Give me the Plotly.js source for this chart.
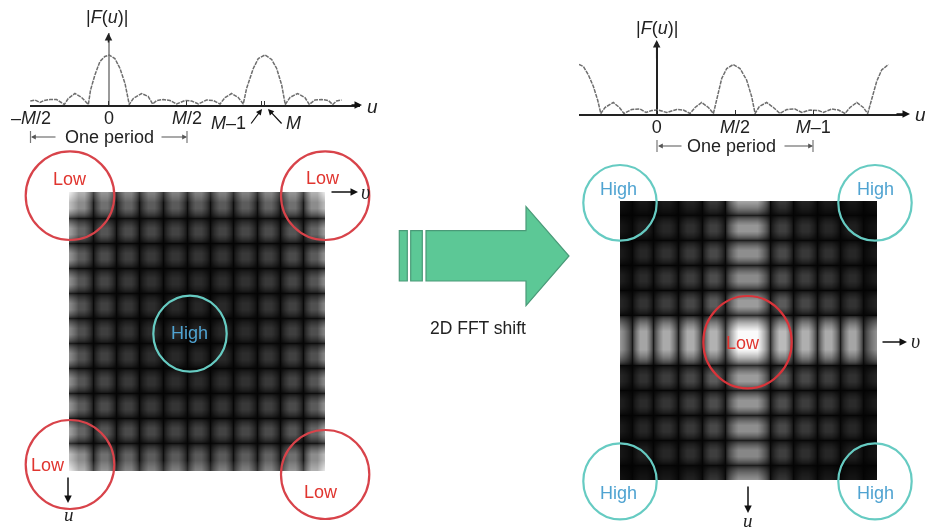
<!DOCTYPE html>
<html>
<head>
<meta charset="utf-8">
<script src="https://cdn.plot.ly/plotly-3.0.1.min.js"></script>
<style>html,body{margin:0;padding:0;background:#fff}#chart{width:925px;height:532px;filter:blur(0.5px)}</style>
</head>
<body>
<div id="chart"></div>
<script>
// ---------- spectra ----------
var leftU = [-50.4,-47.4,-44.2,-41.5,-37.8,-33.5,-28.6,-26.1,-21.8,-17.5,-13.2,-11.8,-9,-5.8,-2.6,0.2,3.8,7.1,10.3,13,15.6,20.9,25.2,28,30.6,34.8,39.1,43.4,48.7,53,57.3,62.6,66.9,71.2,74.4,78.6,82.9,86.1,88.2,92.5,95.7,100,104.3,107.5,110.7,113,116,120.9,125.6,128.4,132,136.3,140.6,143.4,145.9,149.1];
var leftMag = [8,10,5,9,11,11,1,13,23,15,1,30,60,87,97,100,93,73,43,1,13,23,17,2,9,11,9,2,9,8,2,10,9,2,15,23,15,2,33,73,93,100,91,73,40,1,15,23,15,1,10,11,9,1,8,10];
var rightU = [-49.6,-46.8,-43.6,-40.4,-37.7,-35.7,-33,-27.7,-23.8,-20.9,-16,-10.6,-6.8,-3.2,1,6.4,12.8,17,21.3,24.5,28.7,33,36.2,38.3,41.5,44.7,48.9,53.2,57.4,60.6,62.8,65.5,70.2,74.5,78.7,83,88.3,92.6,97.9,103.2,106.4,111.7,116,120.2,123.4,127.7,131.9,134.7,137.2,140.4,143.6,147.9];
var rightMag = [99,95,78,55,28,1,13,23,13,1,9,10,3,7,8,3,9,8,1,13,23,13,1,31,71,91,99,91,68,35,1,15,23,13,1,9,10,3,8,7,3,10,8,1,13,23,13,1,31,65,88,99];

// ---------- tick labels ----------
var leftTickVals = [-50,0,50,98,100];
var leftTickText = ['\u2013<i>M</i>/2','0','<i>M</i>/2','',''];
var rightTickVals = [-49.6,0,50,100];
var rightTickText = ['','0','<i>M</i>/2','<i>M</i>\u20131'];

// ---------- uncentred spectrum image: grey level of each cell and dark line ----------
var leftBinsV = [0,9,15,23.7,32,38,47,55.7,61.7,70.3,79.3,85.3,94.3,103,109,117.7,126.3,132.3,141,149.7,155.7,164.3,173,179,187.7,196.3,202.3,211,219.7,225.7,234.3,242,248,256];
var leftBinsU = [0,10,16,26.3,35.8,41.8,51.3,60.8,66.8,76.3,85.8,91.8,101.3,110.8,116.8,126.3,135.8,141.8,151.3,160.8,166.8,176.3,185.8,191.8,201.3,210.8,216.8,226.3,235.8,241.8,251.3,262,268,279];
var lEdge = [238,178,66,150,56,135,50,130,50,130,50,130,50,130,50,130,50,135,56,150,66,178,238];
var lA = [190,140,24,112,18,98,16,92,14,90,14,90,14,90,14,92,16,98,18,112,24,140,190];
var lT1 = [50,22,6,18,5,15,5,14,4,14,4,14,4,14,4,14,5,15,5,18,6,22,50];
var lB = [160,100,14,84,10,74,9,70,8,66,8,66,8,66,8,70,9,74,10,84,14,100,160];
var lT = [32,14,5,10,4,9,3,8,3,7,3,7,3,7,3,8,3,9,4,10,5,14,32];
var lC = [148,90,11,74,8,62,7,56,6,52,6,52,6,52,6,56,7,62,8,74,11,90,148];
var lD = [142,84,10,68,7,56,6,48,5,44,5,42,5,44,5,48,6,56,7,68,10,84,142];
var lE = [138,80,9,64,7,52,5,44,4,40,4,38,4,40,4,44,5,52,7,64,9,80,138];
var lF = [136,78,9,62,7,50,5,42,4,38,4,35,4,38,4,42,5,50,7,62,9,78,136];
var leftGrey = [lEdge,lA,lA,lT1,lB,lB,lT,lC,lC,lT,lD,lD,lT,lE,lE,lT,lF,lF,lT,lE,lE,lT,lD,lD,lT,lC,lC,lT,lB,lB,lT1,lA,lA,lEdge];

// ---------- shifted spectrum image: grey level of each cell and dark line ----------
var rightBinsV = [0,11.7,19.5,25.5,33.3,42.8,48.8,58.3,67,73,81.7,90.4,96.4,105,118,137,150,158.7,164.7,173.3,182,188,196.7,205.3,211.3,220,228.7,234.7,243.3,257];
var rightBinsU = [0,14,23.5,29.5,39,48.5,54.5,64,73.5,79.5,89,98.5,104.5,114,130,148,164,173.5,179.5,189,198.5,204.5,214,223.5,229.5,239,248.5,254.5,264,279];
var rTop = [20,6,24,6,28,6,36,7,58,10,165,10,58,7,36,6,28,6,24,6,20];
var rT = [5,3,6,3,6,3,8,4,10,5,30,5,10,4,8,3,6,3,6,3,5];
var r1 = [22,6,30,6,38,6,46,7,62,10,150,10,62,7,46,6,38,6,30,6,22];
var r2 = [26,6,38,7,48,7,56,8,72,11,142,11,72,8,56,7,48,7,38,6,26];
var r3 = [30,7,42,7,52,8,60,9,76,12,138,12,76,9,60,8,52,7,42,7,30];
var r4 = [38,8,50,8,60,9,70,10,90,13,155,13,90,10,70,9,60,8,50,8,38];
var rT4 = [8,4,11,4,12,4,13,5,16,7,44,7,16,5,13,4,12,4,11,4,8];
var rMid = [150,24,165,26,170,26,172,28,178,40,250,40,186,28,175,26,170,26,165,24,150];
var r6 = [38,8,48,8,60,9,70,10,90,13,155,13,90,10,70,9,60,8,48,8,38];
var r7 = [30,7,42,7,52,8,60,9,76,12,148,12,76,9,60,8,52,7,42,7,30];
var r8 = [26,6,38,7,48,7,56,8,72,11,142,11,72,8,56,7,48,7,38,6,26];
var r9 = [22,6,30,6,38,6,46,7,62,10,135,10,62,7,46,6,38,6,30,6,22];
var rBot = [18,5,22,6,26,6,34,7,55,9,150,9,55,7,34,6,26,5,22,5,18];
var rightGrey = [rTop,rT,r1,r1,rT,r2,r2,rT,r3,r3,rT,r4,r4,rT4,rMid,rMid,rT4,r6,r6,rT,r7,r7,rT,r8,r8,rT,r9,r9,rT,rBot];

// ---------- page helpers ----------
var W = 925, H = 532, GAMMA = 2;
function px(x){return x/W;}
function py(y){return 1-y/H;}
// each bright cell's level sits on both of its plateau samples
function leftRow(r){var o=[];r.forEach(function(v,i){o.push(v);if(i%2===1)o.push(v);});return o;}
function rightRow(r){var o=[];r.forEach(function(v,i){o.push(v);if(i%2===0&&i>0&&i<r.length-1)o.push(v);});return o;}
function toMag(g,f){return g.map(function(r){return f(r).map(function(v){return Math.pow(v/255,GAMMA);});});}
var greyStops = [0,0.01,0.02,0.03,0.04,0.06,0.08,0.1,0.125,0.15,0.175,0.2,0.25,0.3,0.35,0.4,0.45,0.5,0.55,0.6,0.65,0.7,0.75,0.8,0.85,0.9,0.95,1];
var cs = greyStops.map(function(k){var c=Math.round(k*255);return [Math.pow(k,GAMMA),'rgb('+c+','+c+','+c+')'];});

var RED='#D8434A', TEAL='#66CBC2', LOWC='#E0352F', HIGHC='#4FA3D1', INK='#222222';
var sans='"Liberation Sans", Arial, sans-serif', serif='"Liberation Serif", "DejaVu Serif", serif';

var traces = [
 {type:'scatter',mode:'lines',x:leftU,y:leftMag,xaxis:'x',yaxis:'y',line:{color:'#6e6e6e',width:1.5,dash:'4px,1px'},hoverinfo:'skip'},
 {type:'scatter',mode:'lines',x:rightU,y:rightMag,xaxis:'x3',yaxis:'y3',line:{color:'#6e6e6e',width:1.5,dash:'4px,1px'},hoverinfo:'skip'},
 {type:'heatmap',x:leftBinsV,y:leftBinsU,z:toMag(leftGrey,leftRow),xaxis:'x2',yaxis:'y2',zmin:0,zmax:1,zsmooth:'best',colorscale:cs,showscale:false,hoverinfo:'skip'},
 {type:'heatmap',x:rightBinsV,y:rightBinsU,z:toMag(rightGrey,rightRow),xaxis:'x4',yaxis:'y4',zmin:0,zmax:1,zsmooth:'best',colorscale:cs,showscale:false,hoverinfo:'skip'}
];

function circle(x0,y0,x1,y1,c){return {type:'circle',xref:'paper',yref:'paper',x0:px(x0),x1:px(x1),y0:py(y0),y1:py(y1),line:{color:c,width:2.2},fillcolor:'rgba(0,0,0,0)',layer:'above'};}
function seg(x0,y0,x1,y1,c,w){return {type:'line',xref:'paper',yref:'paper',x0:px(x0),x1:px(x1),y0:py(y0),y1:py(y1),line:{color:c,width:w},layer:'above'};}
function poly(pts,fill){var d=pts.map(function(p,i){return (i?'L':'M')+px(p[0])+','+py(p[1]);}).join(' ')+' Z';
  return {type:'path',xref:'paper',yref:'paper',path:d,fillcolor:fill,line:{color:'#4A9A78',width:1.2},layer:'above'};}
function txt(t,x,y,size,color,fam){return {text:t,xref:'paper',yref:'paper',x:px(x),y:py(y),xanchor:'center',yanchor:'middle',showarrow:false,font:{size:size,color:color||INK,family:fam||sans}};}
function arr(x0,y0,x1,y1,c,w,s){return {text:'',xref:'paper',yref:'paper',x:px(x1),y:py(y1),ax:x0-x1,ay:y0-y1,axref:'pixel',ayref:'pixel',showarrow:true,arrowhead:2,arrowsize:s||1,arrowwidth:w||1.5,arrowcolor:c||'#111',standoff:0,startstandoff:0};}

var GREEN='#5CC896';
var shapes = [
 circle(25.7,151.4,114.3,240,RED), circle(281,151.4,369.3,240,RED),
 circle(25.7,420,114.3,509,RED), circle(281,430,369.3,519,RED),
 circle(153.3,295.7,226.7,371.7,TEAL),
 circle(583.3,165,656.7,240.7,TEAL), circle(838.3,165,911.7,240.7,TEAL),
 circle(583.3,443.3,656.7,519.3,TEAL), circle(838.3,443.3,911.7,519.3,TEAL),
 circle(703.3,296,791.7,388.3,'#D9343A'),
 poly([[399.3,230.7],[407.3,230.7],[407.3,281],[399.3,281]],GREEN),
 poly([[410.7,230.7],[422.3,230.7],[422.3,281],[410.7,281]],GREEN),
 poly([[426,230.7],[526,230.7],[526,206.7],[569,256],[526,305.7],[526,281],[426,281]],GREEN),
 seg(30.5,131,30.5,143,'#777',1.2), seg(187,131,187,143,'#777',1.2),
 seg(657,140,657,152,'#777',1.2), seg(813,140,813,152,'#777',1.2)
];

var annotations = [
 txt('|<i>F</i>(<i>u</i>)|',107,17,18), txt('|<i>F</i>(<i>u</i>)|',657,28,18),
 txt('<i>u</i>',372,106,19), txt('<i>u</i>',920,115,19),
 txt('<i>M</i>\u20131',228,123,18), txt('<i>M</i>',293,123,18),
 txt('One period',109,137,18), txt('One period',731,146,18),
 txt('Low',70,179,18,LOWC), txt('Low',323,178,18,LOWC), txt('Low',48,465,18,LOWC), txt('Low',321,492,18,LOWC),
 txt('High',189,333,18,HIGHC),
 txt('High',618,189,18,HIGHC), txt('High',875,189,18,HIGHC), txt('High',618,493,18,HIGHC), txt('High',875,493,18,HIGHC),
 txt('Low',743,343,18,LOWC),
 txt('2D FFT shift',478,328,17.5),
 txt('<i>\u03C5</i>',365,192,20,INK,serif), txt('<i>u</i>',69,514,19,INK,serif),
 txt('<i>\u03C5</i>',915,341,20,INK,serif), txt('<i>u</i>',748,520,19,INK,serif),
 arr(330,192,358,192), arr(68,476,68,503), arr(881,342,907,342), arr(748,485,748,513),
 arr(108.5,44,108.5,33,'#222',1.5), arr(656.7,60,656.7,40,'#222',1.5),
 arr(350,105,362,105,'#111',1.5), arr(895,114,910,114,'#111',1.5),
 arr(57,137,31,137,'#555',1.2,0.8), arr(160,137,187,137,'#555',1.2,0.8),
 arr(683,146,658,146,'#555',1.2,0.8), arr(783,146,813,146,'#555',1.2,0.8),
 arr(250,125,262,109,'#111',1.2), arr(283,125,268,109,'#111',1.2)
];

var blank = {visible:false,fixedrange:true};
var layout = {
 width:W,height:H,margin:{l:0,r:0,t:0,b:0},paper_bgcolor:'#fff',plot_bgcolor:'rgba(0,0,0,0)',showlegend:false,
 font:{family:sans,size:18,color:INK},
 xaxis:{domain:[px(30),px(360)],range:[-50.6,160.9],anchor:'y',tickmode:'array',tickvals:leftTickVals,ticktext:leftTickText,ticks:'inside',ticklen:4,tickcolor:'#333',showline:true,linecolor:'#222',linewidth:1.5,showgrid:false,zeroline:true,zerolinecolor:'#9a9a9a',zerolinewidth:1.5,tickangle:0,ticklabelstandoff:-4,tickfont:{size:18,color:INK}},
 yaxis:{domain:[py(105),py(33)],range:[0,144],anchor:'x',visible:false},
 xaxis3:{domain:[px(579),px(905)],range:[-49.6,158.5],anchor:'y3',tickmode:'array',tickvals:rightTickVals,ticktext:rightTickText,ticks:'inside',ticklen:4,tickcolor:'#333',showline:true,linecolor:'#222',linewidth:1.5,showgrid:false,zeroline:true,zerolinecolor:'#222',zerolinewidth:2,tickangle:0,ticklabelstandoff:-4,tickfont:{size:18,color:INK}},
 yaxis3:{domain:[py(114),py(42)],range:[0,144],anchor:'x3',visible:false},
 xaxis2:Object.assign({domain:[px(69),px(325)],range:[0,256],anchor:'y2'},blank),
 yaxis2:Object.assign({domain:[py(471),py(192)],range:[279,0],anchor:'x2'},blank),
 xaxis4:Object.assign({domain:[px(620),px(877)],range:[0,257],anchor:'y4'},blank),
 yaxis4:Object.assign({domain:[py(480),py(201)],range:[279,0],anchor:'x4'},blank),
 shapes:shapes,annotations:annotations
};
Plotly.newPlot('chart',traces,layout,{displayModeBar:false,staticPlot:true});
</script>
</body>
</html>
